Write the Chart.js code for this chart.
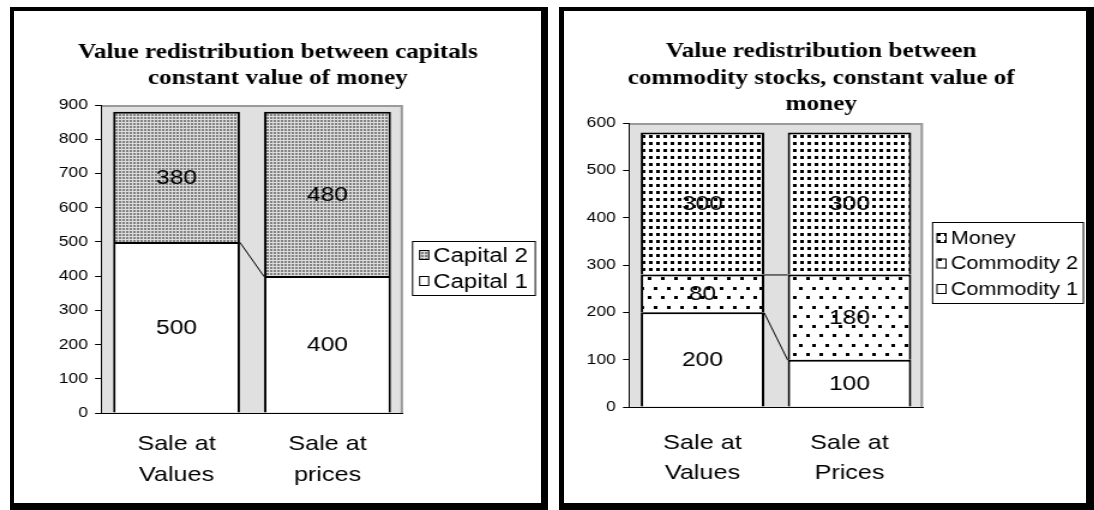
<!DOCTYPE html>
<html>
<head>
<meta charset="utf-8">
<script src="https://cdn.jsdelivr.net/npm/chart.js@4.4.1/dist/chart.umd.min.js"></script>
<style>
  html, body { margin: 0; padding: 0; background: #fff; width: 1094px; height: 510px; overflow: hidden; }
  canvas { position: absolute; top: 0; transform: scaleX(1.2); transform-origin: 0 0; }
  .frame { position: absolute; box-sizing: border-box; border-style: solid; border-color: #000; pointer-events: none; z-index: 5; }
</style>
</head>
<body>
<canvas id="c1" width="456" height="510" style="left:0px"></canvas>
<canvas id="c2" width="456" height="510" style="left:547px"></canvas>
<div class="frame" style="left:10px; top:7px; width:538px; height:503px; border-width:4px 7px 7px 4px;"></div>
<div class="frame" style="left:559px; top:7px; width:535px; height:503px; border-width:4px 8px 7px 5px;"></div>
<script>
// ---------- DATA ----------
const leftTitle = ["Value redistribution between capitals", "constant value of money"];
const leftCategories = [["Sale at", "Values"], ["Sale at", "prices"]];
const capital1 = [500, 400];
const capital2 = [380, 480];
const leftTicks = [0, 100, 200, 300, 400, 500, 600, 700, 800, 900];

const rightTitle = ["Value redistribution between", "commodity stocks, constant value of", "money"];
const rightCategories = [["Sale at", "Values"], ["Sale at", "Prices"]];
const commodity1 = [200, 100];
const commodity2 = [80, 180];
const money = [300, 300];
const rightTicks = [0, 100, 200, 300, 400, 500, 600];

// ---------- PATTERNS ----------
function makePattern(w, h, bg, dots, color) {
  const c = document.createElement('canvas');
  c.width = w; c.height = h;
  const x = c.getContext('2d');
  x.fillStyle = bg; x.fillRect(0, 0, w, h);
  x.fillStyle = color;
  dots.forEach(d => x.fillRect(d[0], d[1], d[2], d[3]));
  return x.createPattern(c, 'repeat');
}
const patCapital2 = makePattern(3, 3, '#dcdcdc', [[0, 0, 2, 2]], '#828282');
const patMoney = makePattern(6, 7, '#ffffff', [[1, 2, 3, 3]], '#000000');
const patCommodity2 = makePattern(11, 19, '#ffffff', [[1, 2, 3, 3], [7, 11, 3, 3]], '#000000');

const FONT = '"Liberation Sans", Arial, sans-serif';
const SERIF = '"Liberation Serif", "Times New Roman", serif';

// ---------- PLUGINS ----------
const areaBg = {
  id: 'areaBg',
  beforeDraw(chart) {
    const a = chart.chartArea, c = chart.ctx;
    c.save();
    c.fillStyle = '#e0e0e0';
    c.fillRect(a.left, a.top, a.right - a.left, a.bottom - a.top);
    c.strokeStyle = '#9a9a9a';
    c.lineWidth = 2;
    c.beginPath();
    c.moveTo(a.left, a.top + 1);
    c.lineTo(a.right - 1, a.top + 1);
    c.lineTo(a.right - 1, a.bottom);
    c.stroke();
    c.restore();
  }
};

const seriesLines = {
  id: 'seriesLines',
  afterDatasetsDraw(chart) {
    const c = chart.ctx;
    c.save();
    c.strokeStyle = '#000';
    c.lineWidth = 1;
    const n = chart.data.datasets.length;
    for (let i = 0; i < n - 1; i++) {
      const els = chart.getDatasetMeta(i).data;
      for (let j = 0; j < els.length - 1; j++) {
        const a = els[j], b = els[j + 1];
        c.beginPath();
        c.moveTo(a.x + a.width / 2, a.y + 0.5);
        c.lineTo(b.x - b.width / 2, b.y + 0.5);
        c.stroke();
      }
    }
    c.restore();
  }
};

const valueLabels = {
  id: 'valueLabels',
  afterDatasetsDraw(chart, args, opts) {
    const c = chart.ctx;
    c.save();
    c.font = opts.size + 'px ' + FONT;
    c.fillStyle = '#000';
    c.textAlign = 'center';
    c.textBaseline = 'middle';
    chart.data.datasets.forEach((ds, i) => {
      chart.getDatasetMeta(i).data.forEach((el, j) => {
        c.fillText(String(ds.data[j]), el.x, (el.y + el.base) / 2 + 1);
      });
    });
    c.restore();
  }
};

const fixedTitle = {
  id: 'fixedTitle',
  afterDraw(chart, args, opts) {
    const c = chart.ctx;
    c.save();
    c.font = 'bold ' + opts.size + 'px ' + SERIF;
    c.fillStyle = '#000';
    c.textAlign = 'center';
    c.textBaseline = 'alphabetic';
    opts.lines.forEach((t, i) => c.fillText(t, opts.x, opts.y + i * opts.step));
    c.restore();
  }
};

const boxLegend = {
  id: 'boxLegend',
  afterDraw(chart, args, opts) {
    const c = chart.ctx;
    c.save();
    c.fillStyle = '#fff';
    c.fillRect(opts.x, opts.y, opts.w, opts.h);
    c.strokeStyle = '#000';
    c.lineWidth = 1;
    c.strokeRect(opts.x + 0.5, opts.y + 0.5, opts.w - 1, opts.h - 1);
    c.font = opts.size + 'px ' + FONT;
    c.textBaseline = 'middle';
    c.textAlign = 'left';
    const ds = chart.data.datasets.slice().reverse();
    ds.forEach((d, i) => {
      const cy = opts.firstY + i * opts.step;
      const sx = opts.swatchX;
      c.fillStyle = d.backgroundColor;
      c.fillRect(sx, cy - 5, 8.5, 10);
      c.strokeStyle = '#000';
      c.strokeRect(sx + 0.5, cy - 4.5, 7.5, 9);
      c.fillStyle = '#000';
      c.fillText(d.label, opts.textX, cy + 1);
    });
    c.restore();
  }
};

function makeChart(id, cfg) {
  return new Chart(document.getElementById(id), {
    type: 'bar',
    data: {
      labels: cfg.categories,
      datasets: cfg.series.map(s => ({
        label: s.label,
        data: s.data,
        backgroundColor: s.bg,
        borderColor: '#000',
        borderWidth: 2,
        categoryPercentage: cfg.catPct,
        barPercentage: 1
      }))
    },
    options: {
      responsive: false,
      animation: false,
      devicePixelRatio: 1,
      events: [],
      layout: { padding: { left: 0, right: cfg.padRight, top: cfg.padTop, bottom: 0 } },
      scales: {
        x: {
          stacked: true,
          grid: { display: false, drawTicks: false },
          border: { display: true, color: '#000', width: 1 },
          ticks: { color: '#000', font: { family: FONT, size: 21, lineHeight: cfg.xLine }, padding: cfg.xPad, maxRotation: 0, autoSkip: false },
          afterFit: s => { s.height = cfg.xHeight; }
        },
        y: {
          stacked: true,
          min: 0,
          max: cfg.ticks[cfg.ticks.length - 1],
          afterBuildTicks: s => { s.ticks = cfg.ticks.map(v => ({ value: v })); },
          grid: { display: true, drawOnChartArea: false, drawTicks: true, tickLength: 5, color: '#000' },
          border: { display: true, color: '#000', width: 1 },
          ticks: { color: '#000', font: { family: FONT, size: 14.5 }, padding: 6 },
          afterFit: s => { s.width = cfg.yWidth; }
        }
      },
      plugins: {
        legend: { display: false },
        title: { display: false },
        tooltip: { enabled: false },
        valueLabels: { size: 20.5 },
        fixedTitle: cfg.title,
        boxLegend: cfg.legend
      }
    },
    plugins: [areaBg, seriesLines, valueLabels, fixedTitle, boxLegend]
  });
}

makeChart('c1', {
  categories: leftCategories,
  series: [
    { label: 'Capital 1', data: capital1, bg: '#ffffff' },
    { label: 'Capital 2', data: capital2, bg: patCapital2 }
  ],
  ticks: leftTicks,
  catPct: 0.84,
  padRight: 456 - 335.8,
  padTop: 105,
  xHeight: 97,
  xPad: 15,
  xLine: 1.5,
  yWidth: 84.2,
  title: { lines: leftTitle, x: 231.5, y: 57.5, step: 26.3, size: 21 },
  legend: { x: 343.3, y: 241, w: 103.3, h: 55, swatchX: 349.2, textX: 361, firstY: 255, step: 26, size: 20 }
});

makeChart('c2', {
  categories: rightCategories,
  series: [
    { label: 'Commodity 1', data: commodity1, bg: '#ffffff' },
    { label: 'Commodity 2', data: commodity2, bg: patCommodity2 },
    { label: 'Money', data: money, bg: patMoney }
  ],
  ticks: rightTicks,
  catPct: 0.84,
  padRight: 456 - 313.3,
  padTop: 123,
  xHeight: 103,
  xPad: 20.5,
  xLine: 1.45,
  yWidth: 68.3,
  title: { lines: rightTitle, x: 228.5, y: 57, step: 26.5, size: 21 },
  legend: { x: 320.8, y: 222, w: 126.7, h: 82, swatchX: 324.5, textX: 336.5, firstY: 238, step: 25.5, size: 18 }
});
</script>
</body>
</html>
